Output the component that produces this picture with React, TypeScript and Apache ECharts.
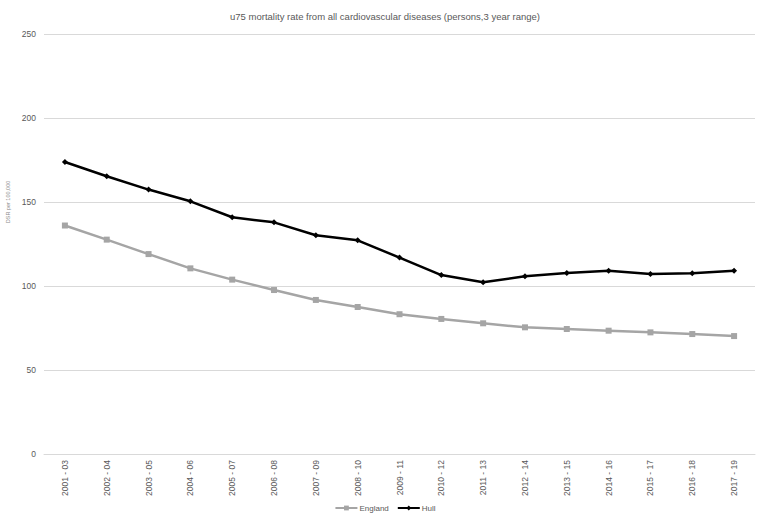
import React, { useEffect, useRef } from "react";
import * as echarts from "echarts";

const periods = [
  "2001 - 03", "2002 - 04", "2003 - 05", "2004 - 06", "2005 - 07", "2006 - 08",
  "2007 - 09", "2008 - 10", "2009 - 11", "2010 - 12", "2011 - 13", "2012 - 14",
  "2013 - 15", "2014 - 16", "2015 - 17", "2016 - 18", "2017 - 19",
];

const england = [
  136.0, 127.6, 119.0, 110.5, 103.8, 97.6, 91.7, 87.5, 83.2, 80.4, 77.8, 75.4,
  74.4, 73.4, 72.4, 71.4, 70.2,
];

const hull = [
  173.8, 165.3, 157.4, 150.4, 140.9, 137.9, 130.2, 127.2, 116.9, 106.5, 102.2,
  105.8, 107.7, 109.1, 107.1, 107.6, 109.1,
];

const titleText = "u75 mortality rate from all cardiovascular diseases (persons,3 year range)";
const yAxisName = "DSR per 100,000";

export default function App() {
  const ref = useRef<HTMLDivElement>(null);

  useEffect(() => {
    document.body.style.margin = "0";
    const chart = echarts.init(ref.current!, null, { renderer: "svg" });
    const font = "Liberation Sans, Arial, sans-serif";
    chart.setOption({
      animation: false,
      backgroundColor: "#ffffff",
      textStyle: { fontFamily: font },
      title: {
        text: titleText,
        left: "center",
        top: 6,
        textStyle: { fontSize: 9.5, fontWeight: "normal", color: "#595959", fontFamily: font },
      },
      legend: {
        bottom: 0,
        left: "center",
        itemWidth: 22,
        itemHeight: 6,
        itemGap: 8,
        textStyle: { fontSize: 8, color: "#595959", fontFamily: font, padding: [0, 0, 0, -3] },
        data: ["England", "Hull"],
      },
      graphic: [
        {
          type: "text",
          x: 8,
          y: 202,
          rotation: Math.PI / 2,
          style: {
            text: yAxisName,
            fontSize: 5.5,
            fill: "#8c8c8c",
            fontFamily: font,
            align: "center",
            verticalAlign: "middle",
          },
        },
      ],
      grid: { left: 44, right: 15, top: 34, bottom: 63, containLabel: false },
      xAxis: {
        type: "category",
        data: periods,
        boundaryGap: true,
        axisLine: { lineStyle: { color: "#d9d9d9", width: 1 } },
        axisTick: { show: false },
        axisLabel: { rotate: 90, fontSize: 8.5, color: "#595959", margin: 6, fontFamily: font },
      },
      yAxis: {
        type: "value",
        min: 0,
        max: 250,
        interval: 50,
        axisLine: { show: false },
        axisTick: { show: false },
        axisLabel: { fontSize: 8.5, color: "#595959", margin: 8, fontFamily: font },
        splitLine: { lineStyle: { color: "#d9d9d9", width: 1 } },
      },
      series: [
        {
          name: "England",
          type: "line",
          data: england,
          symbol: "rect",
          symbolSize: 6,
          lineStyle: { color: "#a5a5a5", width: 2.5 },
          itemStyle: { color: "#a5a5a5" },
        },
        {
          name: "Hull",
          type: "line",
          data: hull,
          symbol: "diamond",
          symbolSize: 6,
          lineStyle: { color: "#000000", width: 2.5 },
          itemStyle: { color: "#000000" },
        },
      ],
    });
    return () => chart.dispose();
  }, []);

  return <div ref={ref} style={{ width: 770, height: 517 }} />;
}
